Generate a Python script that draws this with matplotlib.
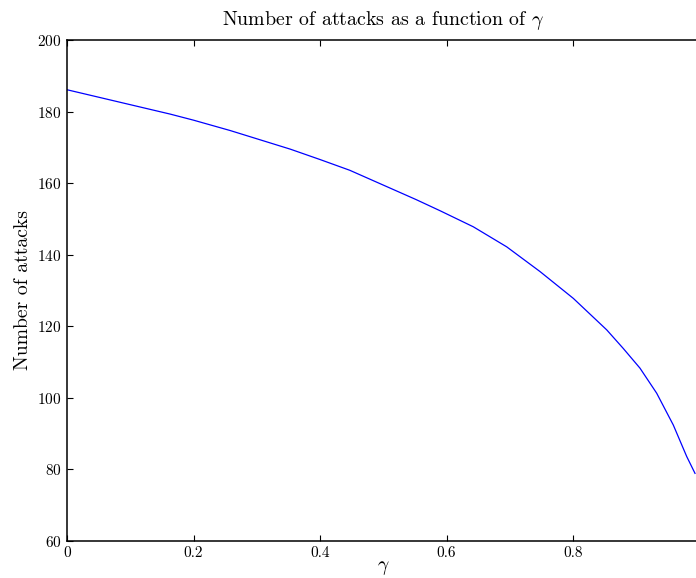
import numpy as np
import matplotlib
matplotlib.use('Agg')
import matplotlib.pyplot as plt
from matplotlib.ticker import FuncFormatter

plt.rcParams['font.family'] = 'serif'
plt.rcParams['font.serif'] = ['cmr10']
plt.rcParams['mathtext.fontset'] = 'cm'
plt.rcParams['axes.formatter.use_mathtext'] = True

# values
gamma = [0.0, 0.163, 0.2, 0.258, 0.353, 0.4, 0.447, 0.552, 0.5897, 0.6424,
         0.6952, 0.7478, 0.8005, 0.8533, 0.8795, 0.9059, 0.9323, 0.9586,
         0.9798, 0.9929]
attacks = [186.1, 179.3, 177.6, 174.7, 169.5, 166.6, 163.6, 155.4, 152.3, 147.8,
           142.2, 135.3, 127.8, 119.0, 113.8, 108.3, 101.3, 92.4,
           83.6, 78.9]

x_ticks = [0, 0.2, 0.4, 0.6, 0.8]
y_ticks = [60, 80, 100, 120, 140, 160, 180, 200]

fig = plt.figure(figsize=(6.96, 5.78), dpi=100)
# axes runs past the right edge of the picture, like the cropped original
ax = fig.add_axes([67 / 696, 1 - 541 / 578, 632.5 / 696, 501 / 578])

ax.plot(gamma, attacks, color='blue', lw=0.9)

ax.set_xlim(0, 1)
ax.set_ylim(60, 200)
ax.set_xticks(x_ticks)
ax.set_yticks(y_ticks)
ax.xaxis.set_major_formatter(FuncFormatter(lambda v, p: '0' if v == 0 else f'{v:g}'))
ax.tick_params(direction='in', length=4.3, width=0.8, labelsize=11,
               top=True, right=False, pad=4)
for sp in ax.spines.values():
    sp.set_linewidth(1.1)

ax.set_title(r'Number of attacks as a function of $\gamma$', fontsize=14.3, pad=11)
ax.set_xlabel(r'$\gamma$', fontsize=14, labelpad=-1)
ax.set_ylabel('Number of attacks', fontsize=14.2, labelpad=4)

fig.savefig('out.png', dpi=100)
